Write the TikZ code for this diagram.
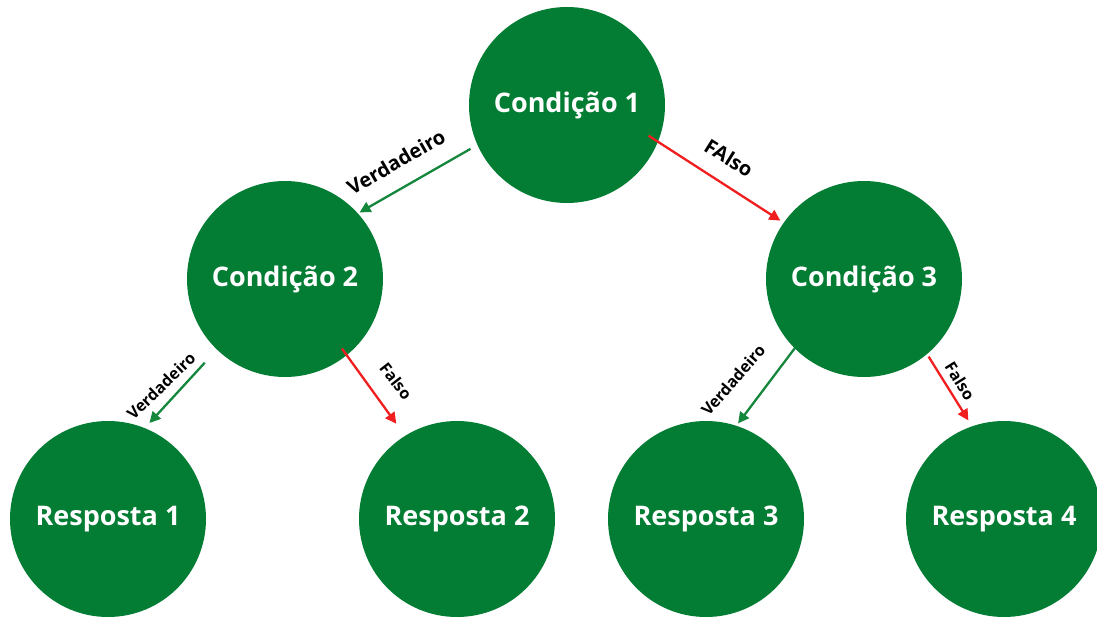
\documentclass[tikz,border=0pt]{standalone}
\usepackage{fontspec}
\setmainfont{Open Sans}
\usetikzlibrary{arrows.meta}
\definecolor{nodegreen}{RGB}{3,125,52}
\definecolor{arrgreen}{RGB}{20,135,60}
\definecolor{arrred}{RGB}{240,30,30}
\tikzset{
  cnode/.style={circle, fill=nodegreen, inner sep=0pt, outer sep=0pt, minimum size=196pt,
    text=white, font=\bfseries\fontsize{27}{30}\selectfont},
  conn/.style={line width=2.3pt, -{Triangle[length=11pt,width=11pt]}},
  yes/.style={conn, draw=arrgreen},
  no/.style={conn, draw=arrred},
  biglab/.style={font=\bfseries\fontsize{20}{22}\selectfont, text=black, inner sep=0pt},
  smalllab/.style={font=\bfseries\fontsize{16}{18}\selectfont, text=black, inner sep=0pt}
}
\begin{document}
\begin{tikzpicture}[x=1pt,y=-1pt]
\useasboundingbox (0,0) rectangle (1097,617);
\node[cnode] (c1) at (567,105) {Condição 1};
\node[cnode] (c2) at (285,279) {Condição 2};
\node[cnode] (c3) at (864,279) {Condição 3};
\node[cnode] (r1) at (108,519) {Resposta 1};
\node[cnode] (r2) at (457,519) {Resposta 2};
\node[cnode] (r3) at (706,519) {Resposta 3};
\node[cnode] (r4) at (1004,519) {Resposta 4};

\draw[yes, shorten <=8pt, shorten >=2pt] (c1.204) -- (c2.42);
\draw[no, shorten <=-11pt, shorten >=4pt] (c1.338) -- (c3.145);
\draw[yes, shorten <=18pt, shorten >=7pt] (c2.226) -- (r1.68);
\draw[no, shorten <=-8pt, shorten >=15pt] (c2.309) -- (r2.122);
\draw[yes, shorten <=0pt, shorten >=3pt] (c3.225) -- (r3.72);
\draw[no, shorten <=3pt, shorten >=7pt] (c3.310) -- (r4.109);

\node[biglab, rotate=30] (l1) at (396,162) {Verdadeiro};
\node[biglab, rotate=-32] (l2) at (729,158) {FAlso};
\node[smalllab, rotate=44] (l3) at (161,386) {Verdadeiro};
\node[smalllab, rotate=-52] (l4) at (396,381) {Falso};
\node[smalllab, rotate=49] (l5) at (733,380) {Verdadeiro};
\node[smalllab, rotate=-58] (l6) at (960,381) {Falso};
\end{tikzpicture}
\end{document}
